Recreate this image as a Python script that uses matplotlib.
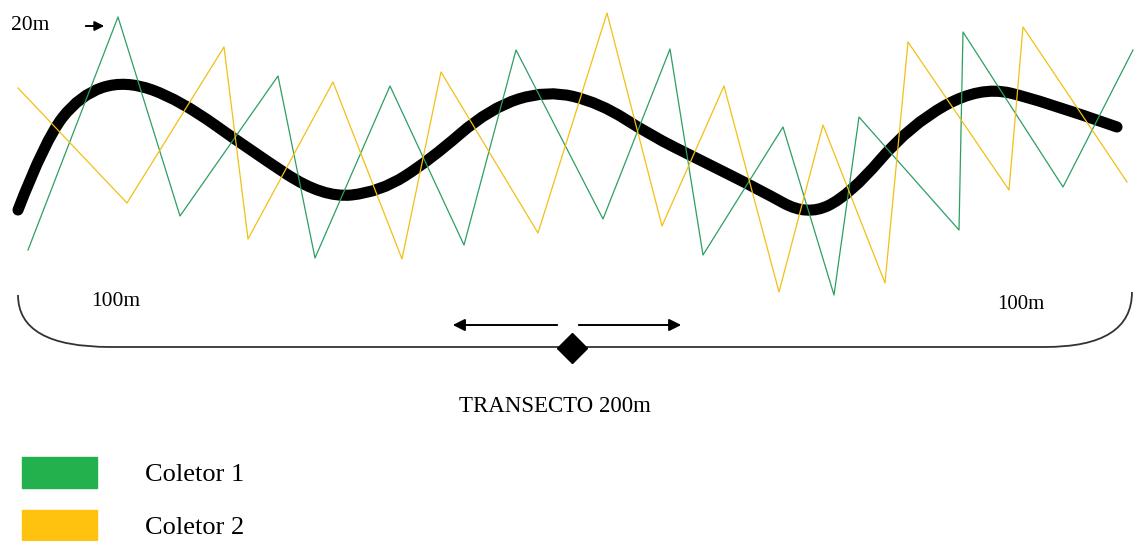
import matplotlib.pyplot as plt
from matplotlib.path import Path
from matplotlib.patches import PathPatch, Rectangle
import numpy as np

# vertices of the collector walks (pixel coords, y down)
green_x = [28, 118, 180, 278, 315, 390, 464, 516, 603, 670, 703, 783, 834, 859, 959, 963, 1063, 1133]
green_y = [250, 17, 216, 76, 258, 86, 245, 50, 219, 49, 255, 127, 295, 117, 230, 32, 187, 50]
yellow_x = [18, 127, 224, 248, 333, 402, 441, 538, 607, 662, 724, 779, 823, 885, 908, 1009, 1023, 1127]
yellow_y = [88, 203, 47, 239, 82, 259, 72, 233, 13, 226, 86, 292, 125, 283, 42, 190, 27, 182]

# transect (thick black) control points
trail_x = [18, 45, 80, 125, 180, 250, 323, 380, 430, 490, 547, 600, 650, 700, 760, 807, 850, 910, 980, 1040, 1117]
trail_y = [210, 140, 95, 80, 100, 150, 198, 192, 160, 108, 90, 103, 135, 160, 190, 216, 195, 125, 86, 100, 127]

labels = ["Coletor 1", "Coletor 2"]
legend_colors = ["#22b14c", "#ffc20e"]

fig = plt.figure(figsize=(11.34, 5.41), dpi=100)
ax = fig.add_axes([0, 0, 1, 1])
ax.set_xlim(0, 1134)
ax.set_ylim(541, 0)
ax.axis("off")

ax.plot(green_x, green_y, color="#2e9e62", lw=0.9)
ax.plot(yellow_x, yellow_y, color="#f2c014", lw=0.9)

# smooth thick curve: quadratic b-spline through control points
pts = list(zip(trail_x, trail_y))
verts = [pts[0]]
codes = [Path.MOVETO]
for i in range(1, len(pts) - 1):
    mid = ((pts[i][0] + pts[i + 1][0]) / 2, (pts[i][1] + pts[i + 1][1]) / 2)
    if i == len(pts) - 2:
        mid = pts[-1]
    verts += [pts[i], mid]
    codes += [Path.CURVE3, Path.CURVE3]
ax.add_patch(PathPatch(Path(verts, codes), fill=False, lw=8, edgecolor="black", capstyle="round"))

# bottom bracket
bverts = [(18, 295), (18, 347), (110, 347), (1045, 347), (1132, 347), (1132, 292)]
bcodes = [Path.MOVETO, Path.CURVE3, Path.CURVE3, Path.LINETO, Path.CURVE3, Path.CURVE3]
ax.add_patch(PathPatch(Path(bverts, bcodes), fill=False, lw=1.3, edgecolor="#333333"))

ax.plot([572], [348], marker="D", markersize=15, color="black")
ax.annotate("", xy=(450, 325), xytext=(560, 325),
            arrowprops=dict(arrowstyle="-|>", color="black", lw=1.4, mutation_scale=18))
ax.annotate("", xy=(684, 325), xytext=(576, 325),
            arrowprops=dict(arrowstyle="-|>", color="black", lw=1.4, mutation_scale=18))
ax.annotate("", xy=(107, 26), xytext=(83, 26),
            arrowprops=dict(arrowstyle="-|>", color="black", lw=1.4, mutation_scale=14))

serif = "Liberation Serif"
ax.text(11, 30, "20m", fontsize=15.5, family=serif, va="baseline")
ax.text(91, 306, "100m", fontsize=15.5, family=serif, va="baseline")
ax.text(997, 309, "100m", fontsize=15, family=serif, va="baseline")
ax.text(555, 412, "TRANSECTO 200m", fontsize=16.5, family=serif, ha="center", va="baseline")

for i, (lab, c) in enumerate(zip(labels, legend_colors)):
    y0 = 457 + i * 53
    ax.add_patch(Rectangle((22, y0), 75, 31, color=c))
    ax.text(145, y0 + 24, lab, fontsize=19, family=serif, va="baseline")

fig.savefig("out.png", dpi=100)
